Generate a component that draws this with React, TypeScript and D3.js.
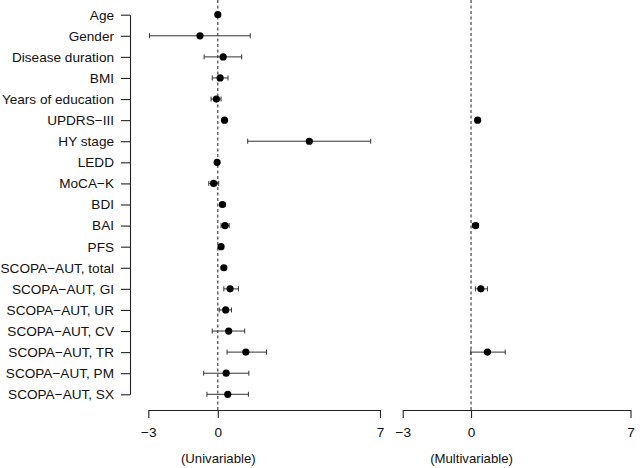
import React, { useEffect, useRef } from "react";
import * as d3 from "d3";

const labels = [
  "Age",
  "Gender",
  "Disease duration",
  "BMI",
  "Years of education",
  "UPDRS−III",
  "HY stage",
  "LEDD",
  "MoCA−K",
  "BDI",
  "BAI",
  "PFS",
  "SCOPA−AUT, total",
  "SCOPA−AUT, GI",
  "SCOPA−AUT, UR",
  "SCOPA−AUT, CV",
  "SCOPA−AUT, TR",
  "SCOPA−AUT, PM",
  "SCOPA−AUT, SX",
];

// univariable estimates and 95% CI
const uniEst = [0.0, -0.77, 0.23, 0.1, -0.06, 0.29, 3.95, -0.03, -0.18, 0.2, 0.31, 0.14, 0.26, 0.53, 0.34, 0.47, 1.21, 0.36, 0.43];
const uniLo = [-0.03, -2.95, -0.59, -0.24, -0.29, 0.24, 1.29, -0.05, -0.39, 0.1, 0.14, 0.06, 0.21, 0.26, 0.06, -0.24, 0.4, -0.61, -0.47];
const uniHi = [0.03, 1.4, 1.03, 0.44, 0.14, 0.34, 6.6, -0.01, 0.04, 0.3, 0.49, 0.22, 0.31, 0.89, 0.59, 1.16, 2.1, 1.34, 1.32];

// multivariable (only retained variables)
const multiEst = [null, null, null, null, null, 0.29, null, null, null, null, 0.2, null, null, 0.43, null, null, 0.72, null, null];
const multiLo = [null, null, null, null, null, 0.25, null, null, null, null, 0.06, null, null, 0.19, null, null, -0.01, null, null];
const multiHi = [null, null, null, null, null, 0.33, null, null, null, null, 0.32, null, null, 0.72, null, null, 1.5, null, null];

const xTicks = [-3, 0, 7];

const W = 640;
const H = 468;
const FONT = "'Liberation Sans', Arial, sans-serif";

function App() {
  const ref = useRef<SVGSVGElement>(null);

  useEffect(() => {
    const svg = d3.select(ref.current);
    svg.selectAll("*").remove();

    const y = d3.scalePoint<string>().domain(labels).range([14.7, 394.3]);
    const xL = d3.scaleLinear().domain([-3, 7]).range([148.3, 380]);
    const xR = d3.scaleLinear().domain([-3, 7]).range([402.7, 630.5]);
    const axisY = 410;

    // y axis with labels
    const ya = svg
      .append("g")
      .attr("transform", "translate(130,0)")
      .call(d3.axisLeft(y).tickSize(9).tickSizeOuter(0).tickPadding(7));
    ya.selectAll("path,line").attr("stroke", "#222").attr("stroke-width", 1.1);
    ya.selectAll("text")
      .attr("fill", "#111")
      .style("font-family", FONT)
      .style("font-size", "13.6px");

    const panels = [
      { x: xL, est: uniEst, lo: uniLo, hi: uniHi, title: "(Univariable)" },
      { x: xR, est: multiEst, lo: multiLo, hi: multiHi, title: "(Multivariable)" },
    ];

    panels.forEach((p) => {
      const g = svg.append("g");

      // reference line at 0
      g.append("line")
        .attr("x1", p.x(0))
        .attr("x2", p.x(0))
        .attr("y1", 0)
        .attr("y2", axisY)
        .attr("stroke", "#333")
        .attr("stroke-width", 1.1)
        .attr("stroke-dasharray", "3,2.5");

      const rows = labels
        .map((l, i) => ({ l, e: p.est[i], lo: p.lo[i], hi: p.hi[i] }))
        .filter((d) => d.e != null);

      // CI whiskers
      g.selectAll(".ci")
        .data(rows)
        .join("line")
        .attr("x1", (d) => p.x(d.lo as number))
        .attr("x2", (d) => p.x(d.hi as number))
        .attr("y1", (d) => y(d.l)!)
        .attr("y2", (d) => y(d.l)!)
        .attr("stroke", "#333")
        .attr("stroke-width", 1);

      ["lo", "hi"].forEach((k) => {
        g.selectAll(".cap-" + k)
          .data(rows)
          .join("line")
          .attr("x1", (d: any) => p.x(d[k]))
          .attr("x2", (d: any) => p.x(d[k]))
          .attr("y1", (d) => y(d.l)! - 2.5)
          .attr("y2", (d) => y(d.l)! + 2.5)
          .attr("stroke", "#333")
          .attr("stroke-width", 1);
      });

      // point estimates
      g.selectAll(".pt")
        .data(rows)
        .join("circle")
        .attr("cx", (d) => p.x(d.e as number))
        .attr("cy", (d) => y(d.l)!)
        .attr("r", 3.6)
        .attr("fill", "#000");

      // x axis
      const xa = svg
        .append("g")
        .attr("transform", `translate(0,${axisY})`)
        .call(
          d3
            .axisBottom(p.x)
            .tickValues(xTicks)
            .tickSize(8)
            .tickSizeOuter(0)
            .tickPadding(9)
            .tickFormat(d3.format("d"))
        );
      xa.selectAll("path,line").attr("stroke", "#222").attr("stroke-width", 1.1);
      xa.selectAll("text")
        .attr("fill", "#111")
        .style("font-family", FONT)
        .style("font-size", "13.6px");

      svg
        .append("text")
        .attr("x", p.x(0) + 0.5)
        .attr("y", 462.5)
        .attr("text-anchor", "middle")
        .attr("fill", "#111")
        .style("font-family", FONT)
        .style("font-size", "13.2px")
        .text(p.title);
    });
  }, []);

  return (
    <div style={{ position: "absolute", left: 0, top: 0, background: "#fff" }}>
      <svg ref={ref} width={W} height={H} style={{ display: "block" }} />
    </div>
  );
}

export default App;
